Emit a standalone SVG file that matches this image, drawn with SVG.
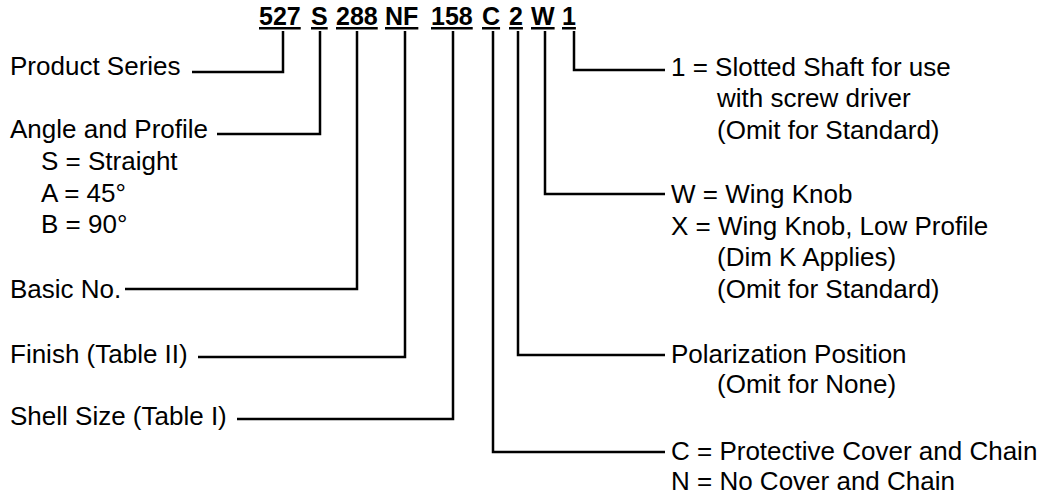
<svg xmlns="http://www.w3.org/2000/svg" width="1052" height="497" viewBox="0 0 1052 497">
<style>
text{font-family:"Liberation Sans",Arial,sans-serif;font-size:26px;fill:#000}
.code{font-weight:bold;font-size:25px;text-decoration:underline}
.conn{fill:none;stroke:#000;stroke-width:2.5}
</style>
<rect width="1052" height="497" fill="#fff"/>
<g id="code">
<text class="code" x="259" y="25">527</text>
<text class="code" x="311" y="25">S</text>
<text class="code" x="336" y="25">288</text>
<text class="code" x="385" y="25">NF</text>
<text class="code" x="431" y="25">158</text>
<text class="code" x="482" y="25">C</text>
<text class="code" x="509" y="25">2</text>
<text class="code" x="531" y="25">W</text>
<text class="code" x="562" y="25">1</text>
</g>
<g id="connectors">
<path class="conn" d="M283,31 V72 H192"/>
<path class="conn" d="M320,31 V134 H217"/>
<path class="conn" d="M357,31 V289 H125"/>
<path class="conn" d="M405,31 V357 H198"/>
<path class="conn" d="M453,31 V419 H237"/>
<path class="conn" d="M493,31 V452 H665"/>
<path class="conn" d="M518,31 V355 H665"/>
<path class="conn" d="M545,31 V194 H665"/>
<path class="conn" d="M574,31 V70 H665"/>
</g>
<g id="product-series"><text x="10" y="75">Product Series</text></g>
<g id="angle-profile">
<text x="10" y="138">Angle and Profile</text>
<text x="41" y="170">S = Straight</text>
<text x="41" y="202">A = 45°</text>
<text x="41" y="233">B = 90°</text>
</g>
<g id="basic-no"><text x="10" y="298">Basic No.</text></g>
<g id="finish"><text x="10" y="363">Finish (Table II)</text></g>
<g id="shell-size"><text x="10" y="425">Shell Size (Table I)</text></g>
<g id="slotted-shaft">
<text x="671" y="76">1 = Slotted Shaft for use</text>
<text x="717" y="107">with screw driver</text>
<text x="717" y="139">(Omit for Standard)</text>
</g>
<g id="wing-knob">
<text x="671" y="203">W = Wing Knob</text>
<text x="671" y="235">X = Wing Knob, Low Profile</text>
<text x="717" y="266">(Dim K Applies)</text>
<text x="717" y="298">(Omit for Standard)</text>
</g>
<g id="polarization">
<text x="671" y="363">Polarization Position</text>
<text x="717" y="393">(Omit for None)</text>
</g>
<g id="cover-chain">
<text x="671" y="460">C = Protective Cover and Chain</text>
<text x="671" y="490">N = No Cover and Chain</text>
</g>
</svg>
